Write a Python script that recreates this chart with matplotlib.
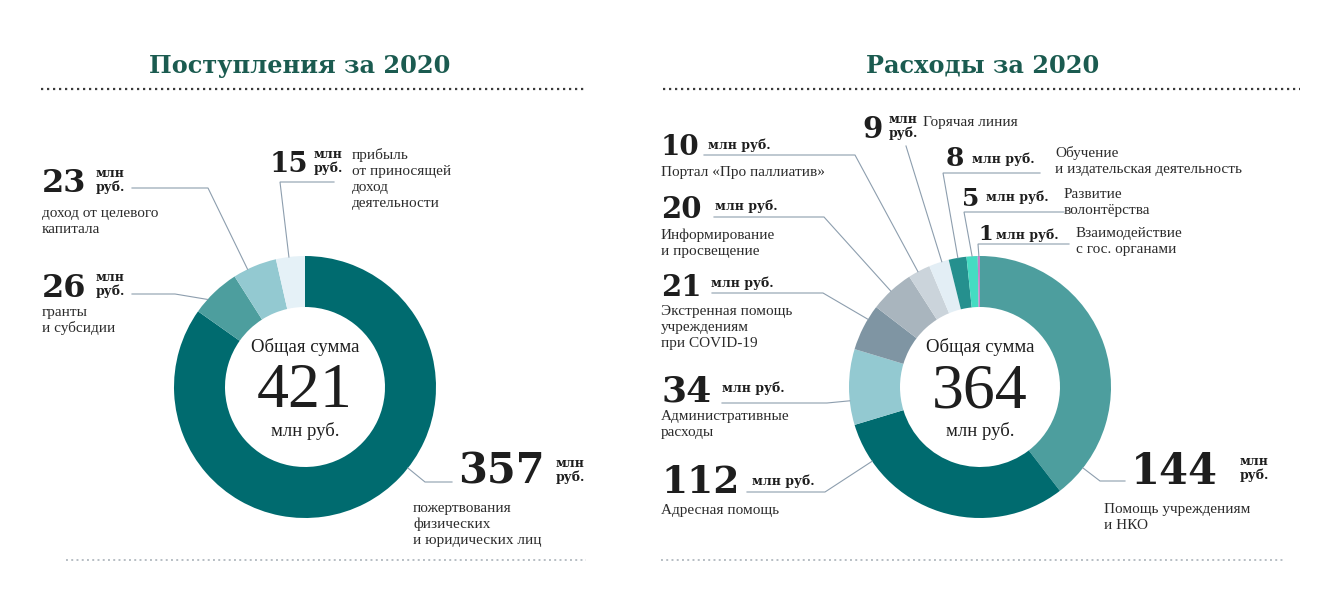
import matplotlib
matplotlib.use("Agg")
import numpy as np
import matplotlib.pyplot as plt

# ---- data -------------------------------------------------------------
income_title = "Поступления за 2020"
income_values = [357, 26, 23, 15]
income_texts = [
    "пожертвования\nфизических\nи юридических лиц",
    "гранты\nи субсидии",
    "доход от целевого\nкапитала",
    "прибыль\nот приносящей\nдоход\nдеятельности",
]
income_colors = ["#006b6f", "#4d9e9e", "#93c9d1", "#e5f1f7"]
income_total = 421

expense_title = "Расходы за 2020"
expense_values = [144, 112, 34, 21, 20, 10, 9, 8, 5, 1]
expense_texts = [
    "Помощь учреждениям\nи НКО",
    "Адресная помощь",
    "Административные\nрасходы",
    "Экстренная помощь\nучреждениям\nпри COVID-19",
    "Информирование\nи просвещение",
    "Портал «Про паллиатив»",
    "Горячая линия",
    "Обучение\nи издательская деятельность",
    "Развитие\nволонтёрства",
    "Взаимодействие\nс гос. органами",
]
expense_colors = ["#4d9e9e", "#006b6f", "#93c9d1", "#7f95a3", "#a9b5be",
                  "#cbd4db", "#e3eef5", "#25908e", "#45dcc2", "#c583c6"]
expense_total = 364

unit = "млн руб."

# ---- layout (pixels) ---------------------------------------------------
W, H = 1335, 602
R, RING = 131, 51
SERIF = "Liberation Serif"
HEAVY = "DejaVu Serif"
TXT = "#2b2b2b"
LEADER = "#8d9eae"

# per slice: number pos/size, unit pos & stacked, description pos,
# leader start, elbow, fraction of wedge where leader ends
income_layout = [
    dict(num=(458, 484, 30), unit=(556, 467, True), desc=(413, 512),
         start=(452, 482), elbow=(425, 482), frac=0.42),
    dict(num=(42, 297, 23), unit=(96, 281, True), desc=(42, 316),
         start=(132, 294), elbow=(175, 294), frac=0.3),
    dict(num=(42, 192, 23), unit=(96, 177, True), desc=(42, 217),
         start=(132, 188), elbow=(208, 188), frac=0.33),
    dict(num=(270, 172, 20), unit=(314, 158, True), desc=(352, 159),
         start=(334, 182), elbow=(280, 182), frac=0.45),
]
expense_layout = [
    dict(num=(1131, 484, 30), unit=(1240, 465, True), desc=(1104, 513),
         start=(1125, 481), elbow=(1100, 481), frac=0.9),
    dict(num=(661, 493, 27), unit=(752, 485, False), desc=(661, 514),
         start=(747, 492), elbow=(825, 492), frac=0.84),
    dict(num=(661, 401, 26), unit=(722, 392, False), desc=(661, 420),
         start=(722, 403), elbow=(827, 403), frac=0.32),
    dict(num=(661, 296, 21), unit=(711, 287, False), desc=(661, 315),
         start=(712, 293), elbow=(823, 293), frac=0.69),
    dict(num=(661, 218, 21), unit=(715, 210, False), desc=(661, 239),
         start=(714, 217), elbow=(824, 217), frac=0.48),
    dict(num=(661, 155, 20), unit=(708, 149, False), desc=(661, 176),
         start=(704, 155), elbow=(855, 155), frac=0.44),
    dict(num=(862, 138, 21), unit=(889, 123, True), desc=(923, 126),
         start=(906, 146), elbow=(906, 146), frac=0.65),
    dict(num=(946, 166, 19), unit=(972, 163, False), desc=(1055, 157),
         start=(1040, 173), elbow=(943, 173), frac=0.52),
    dict(num=(962, 206, 18), unit=(986, 201, False), desc=(1064, 198),
         start=(1064, 212), elbow=(964, 212), frac=0.5),
    dict(num=(978, 240, 15), unit=(996, 239, False), desc=(1076, 237),
         start=(1069, 244), elbow=(978, 244), frac=0.5),
]

fig = plt.figure(figsize=(W / 100, H / 100), dpi=100)
ax = fig.add_axes([0, 0, 1, 1])


def text_lines(x, y, s, step, **kw):
    # one text per line so every baseline sits where we want it
    for i, line in enumerate(s.split("\n")):
        ax.text(x, y + i * step, line, ha="left", va="baseline", **kw)


def donut(values, colors, layout, texts, total, cx, cy):
    wedges, _ = ax.pie(values, colors=colors, startangle=-90, counterclock=True,
                       center=(cx, cy), radius=R, frame=True,
                       wedgeprops=dict(width=RING, linewidth=0))
    for w, val, txt, lay in zip(wedges, values, texts, layout):
        nx, ny, ns = lay["num"]
        ax.text(nx, ny, str(val), family=HEAVY, weight="bold", fontsize=ns,
                color="#1e1e1e", ha="left", va="baseline")
        ux, uy, stacked = lay["unit"]
        text_lines(ux, uy, unit.replace(" ", "\n") if stacked else unit, 14,
                   family=HEAVY, weight="bold", fontsize=9, color="#1e1e1e")
        dx, dy = lay["desc"]
        text_lines(dx, dy, txt, 16, family=SERIF, fontsize=11, color=TXT)
        ang = np.radians(w.theta1 + lay["frac"] * (w.theta2 - w.theta1))
        ex, ey = cx + R * np.cos(ang), cy + R * np.sin(ang)
        (sx, sy), (bx, by) = lay["start"], lay["elbow"]
        ax.plot([sx, bx, ex], [sy, by, ey], color=LEADER, lw=0.8,
                solid_joinstyle="miter")
    ax.text(cx, cy - 35, "Общая сумма", family=SERIF, fontsize=13.5,
            color="#1e1e1e", ha="center", va="baseline")
    ax.text(cx, cy + 20, str(total), family=SERIF, fontsize=46,
            color="#1e1e1e", ha="center", va="baseline")
    ax.text(cx, cy + 49, unit, family=SERIF, fontsize=13.5,
            color="#1e1e1e", ha="center", va="baseline")


donut(income_values, income_colors, income_layout, income_texts,
      income_total, 305, 387)
donut(expense_values, expense_colors, expense_layout, expense_texts,
      expense_total, 980, 387)

# titles and dotted rules
for title, tx in [(income_title, 300), (expense_title, 983)]:
    ax.text(tx, 73, title, family=HEAVY, weight="bold", fontsize=17.3,
            color="#1b5b50", ha="center", va="baseline")
for x0, x1 in [(41, 585), (663, 1300)]:
    ax.plot([x0, x1], [89, 89], color="#3a3a3a", lw=1.6,
            linestyle=(0, (1, 1.7)))
for x0, x1 in [(66, 586), (661, 1284)]:
    ax.plot([x0, x1], [560, 560], color="#b7bec4", lw=1.4,
            linestyle=(0, (1, 1.7)))

ax.set_xlim(0, W)
ax.set_ylim(H, 0)
ax.set_aspect("equal")
ax.axis("off")

fig.savefig("out.png", dpi=100, facecolor="white")
